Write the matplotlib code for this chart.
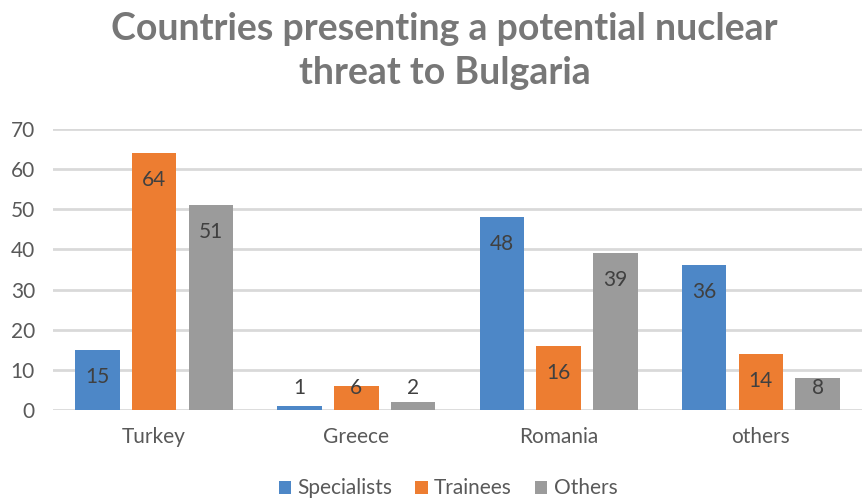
import matplotlib.pyplot as plt
import numpy as np

# Data
countries = ["Turkey", "Greece", "Romania", "others"]
specialists = [15, 1, 48, 36]
trainees = [64, 6, 16, 14]
others = [51, 2, 39, 8]
series_names = ["Specialists", "Trainees", "Others"]
colors = ["#4d87c7", "#ed7d31", "#9b9b9b"]

plt.rcParams['font.family'] = ['Lato', 'DejaVu Sans']

fig = plt.figure(figsize=(8.65, 5.01), dpi=100)
ax = fig.add_axes([53 / 865, 1 - 410 / 501, 809 / 865, (410 - 129) / 501])

x = np.arange(len(countries))
width = 0.22
offsets = [-0.28, 0, 0.28]

bars = []
for vals, off, col, name in zip([specialists, trainees, others], offsets, colors, series_names):
    b = ax.bar(x + off, vals, width, color=col, label=name, zorder=3)
    bars.append(b)
    # data labels: inside end, pushed up for short bars
    for xi, v in zip(x, vals):
        ax.text(xi + off, max(v - 6.7, 5.5), str(v), ha='center', va='center',
                fontsize=15, color='#404040', zorder=4)

ax.set_xlim(-0.5, 3.5)
ax.set_ylim(0, 70)
ax.set_yticks(range(0, 71, 10))
ax.set_xticks(x)
ax.set_xticklabels(countries)
ax.tick_params(axis='both', length=0, labelsize=15, colors='#595959')
ax.tick_params(axis='x', pad=12)
ax.tick_params(axis='y', pad=13)

ax.grid(axis='y', color='#d9d9d9', linewidth=2, zorder=0)
for s in ax.spines.values():
    s.set_visible(False)

fig.text(0.514, 0.898, "Countries presenting a potential nuclear\nthreat to Bulgaria",
         ha='center', va='center', fontsize=27, fontweight='bold', color='#777777',
         linespacing=1.35)

fig.legend(handles=bars, labels=series_names, loc='center', bbox_to_anchor=(0.518, 0.025),
           ncol=3, frameon=False, fontsize=15, labelcolor='#595959',
           handlelength=0.6, handleheight=0.6, handletextpad=0.3, columnspacing=1.1)

fig.savefig("out.png", dpi=100)
